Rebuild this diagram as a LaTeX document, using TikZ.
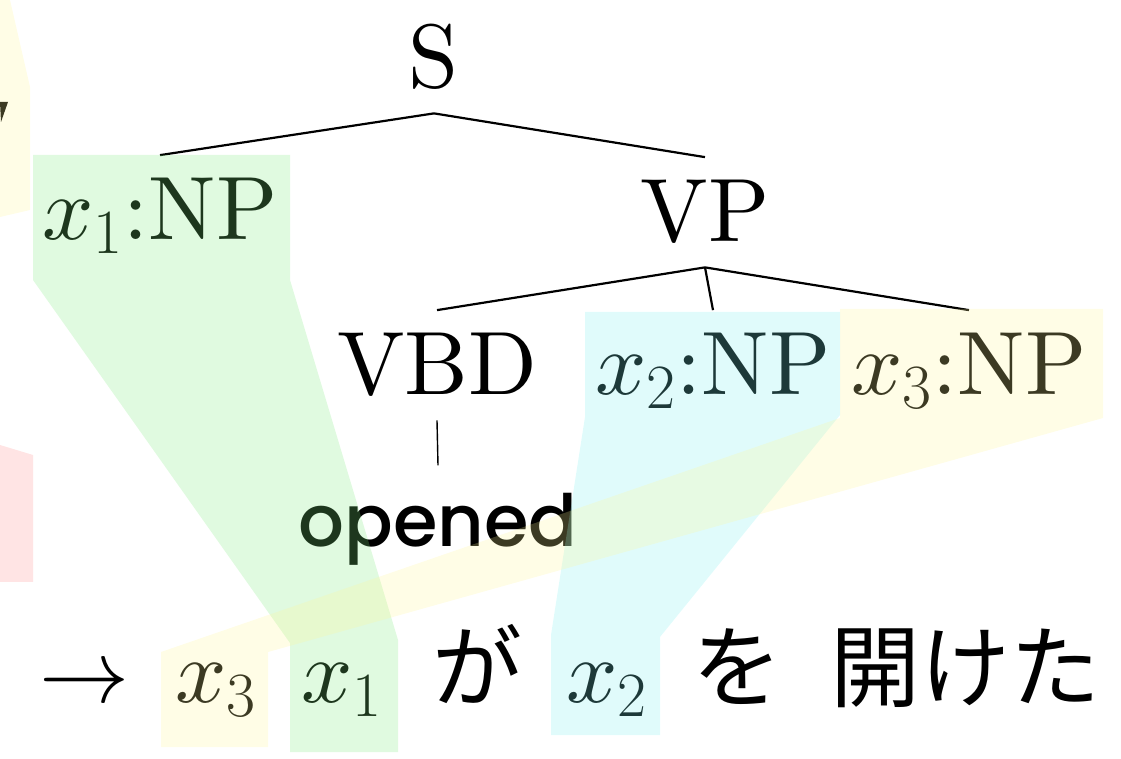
\RequirePackage{fix-cm}
\documentclass[tikz,border=0pt]{standalone}
\usepackage{fontspec}
\usepackage{tikz}
\usetikzlibrary{positioning, calc}
\setmainfont{lmroman10-regular.otf}
\DeclareFontShape{OML}{cmm}{m}{it}{<->cmmi10}{\skewchar\font'177}
\newfontfamily\jpfont{Noto Sans CJK JP}
\newfontfamily\wordfont{Poppins}[UprightFont=* Medium]
\definecolor{hlgreen}{RGB}{125,233,125}
\definecolor{hlcyan}{RGB}{125,240,240}
\definecolor{hlyellow}{RGB}{254,246,150}
\definecolor{hlpink}{RGB}{255,141,141}
\tikzset{
    lbl/.style={anchor=base, inner sep=11.5pt, font=\fontsize{45}{54}\selectfont},
    jp/.style={font=\fontsize{45}{54}\selectfont\jpfont},
    hl/.style={fill=#1, fill opacity=0.24},
    branch/.style={line width=1.1pt}
}

\begin{document}
\begin{tikzpicture}[x=0.5pt, y=-0.5pt]
    \useasboundingbox (0,0) rectangle (1121,759);
    \node[lbl] (s) at (434,88) {S};
    \node[lbl] (np1) at (160,240) {$x_1$:NP};
    \node[lbl] (vp) at (705,242) {VP};
    \node[lbl] (vbd) at (437,395) {VBD};
    \node[lbl] (np2) at (713,395) {$x_2$:NP};
    \node[lbl] (np3) at (969,395) {$x_3$:NP};
    \node[lbl, inner ysep=14pt, font=\fontsize{36}{43}\selectfont\wordfont] (word) at (438,547) {opened};
    \draw[branch] (s.south) -- (np1.north);
    \draw[branch] (s.south) -- (vp.north);
    \draw[branch] (vp.south) -- (vbd.north);
    \draw[branch] (vp.south) -- (np2.north);
    \draw[branch] (vp.south) -- (np3.north);
    \draw[line width=0.7pt] (vbd.south) -- (word.north);
    \node[lbl] (arrow) at (85,703) {$\rightarrow$};
    \node[lbl] (x3) at (216,703) {$x_3$};
    \node[lbl] (x1) at (342,703) {$x_1$};
    \node[lbl, jp] (ga) at (477,701) {が};
    \node[lbl] (x2) at (607,703) {$x_2$};
    \node[lbl, jp] (wo) at (737,701) {を};
    \node[lbl, jp] (aketa) at (965,701) {開けた};
    \fill (0,102) -- (8,102) -- (1,122) -- cycle;
    \fill[hl=hlyellow] (0,0) -- (10,0) -- (30,87) -- (30,210) -- (0,217) -- cycle;
    \fill[hl=hlpink] (0,445) -- (33,455) -- (33,582) -- (0,582) -- cycle;
    \fill[hl=hlgreen] (33,155) -- (290,155) -- (290,280) -- (398,640) -- (398,752) -- (290,752) -- (290,643) -- (33,280) -- cycle;
    \fill[hl=hlcyan] (585,312) -- (840,312) -- (840,415) -- (660,637) -- (660,735) -- (551,735) -- (551,635) -- (585,417) -- cycle;
    \fill[hl=hlyellow] (840,309) -- (1103,309) -- (1103,418) -- (268,652) -- (268,747) -- (161,747) -- (161,652) -- (840,418) -- cycle;
\end{tikzpicture}
\end{document}
